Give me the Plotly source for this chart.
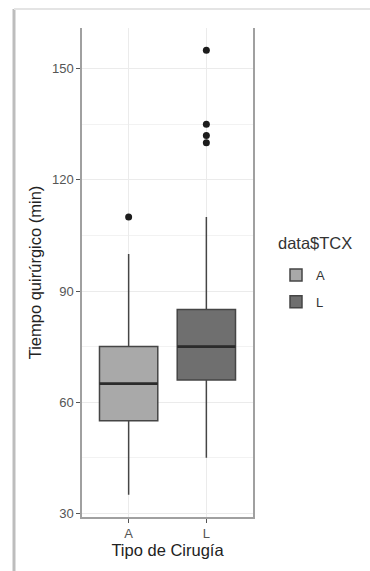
import plotly.graph_objects as go

# ---- data ----
categories = ["A", "L"]
q1 = [55, 66]
medians = [65, 75]
q3 = [75, 85]
lower_whisker = [35, 45]
upper_whisker = [100, 110]
outliers = [[110], [155, 135, 132, 130]]
fills = ["#a9a9a9", "#6f6f6f"]

y_ticks = [30, 60, 90, 120, 150]

BOX_W = 0.75
fig = go.Figure()

for i, cat in enumerate(categories):
    xpos = i + 1
    fig.add_trace(go.Box(
        x=[xpos], q1=[q1[i]], median=[medians[i]], q3=[q3[i]],
        lowerfence=[lower_whisker[i]], upperfence=[upper_whisker[i]],
        name=cat, legendgroup=cat, width=BOX_W, whiskerwidth=0,
        fillcolor=fills[i], line=dict(color="#454545", width=1.5),
        boxpoints=False, hoverinfo="skip",
    ))
    # thicker median line (ggplot style)
    fig.add_trace(go.Scatter(
        x=[xpos - BOX_W / 2, xpos + BOX_W / 2], y=[medians[i], medians[i]],
        mode="lines", line=dict(color="#2b2b2b", width=2.6),
        showlegend=False, hoverinfo="skip", legendgroup=cat,
    ))
    fig.add_trace(go.Scatter(
        x=[xpos] * len(outliers[i]), y=outliers[i], mode="markers",
        marker=dict(color="#1c1c1c", size=7),
        showlegend=False, hoverinfo="skip", legendgroup=cat,
    ))

# screenshot frame (shadow lines on left and top)
L, R, T, B = 82, 117, 28, 54
W, H = 370, 571
pw, ph = W - L - R, H - T - B
def px(x):
    return (x - L) / pw
def py(y):
    return 1 - (y - T) / ph

fig.add_shape(type="line", xref="paper", yref="paper",
              x0=px(14), x1=px(14), y0=py(9), y1=py(575),
              line=dict(color="#bdbdbd", width=3))
fig.add_shape(type="line", xref="paper", yref="paper",
              x0=px(14), x1=px(372), y0=py(9), y1=py(9),
              line=dict(color="#e4e4e4", width=2))

fig.add_annotation(text="data$TCX", xref="paper", yref="paper",
                   x=px(276), y=py(243), xanchor="left", yanchor="middle",
                   showarrow=False, font=dict(size=16.5, color="#333333"))

fig.update_layout(
    width=W, height=H,
    margin=dict(l=L, r=R, t=T, b=B),
    paper_bgcolor="white", plot_bgcolor="white",
    font=dict(family="Liberation Sans, Arial, sans-serif", color="#222222"),
    boxmode="overlay",
    legend=dict(
        x=px(276), y=py(260), xanchor="left", yanchor="top",
        font=dict(size=13, color="#333333"), tracegroupgap=7,
        bgcolor="rgba(0,0,0,0)", itemwidth=30,
    ),
)

fig.update_xaxes(
    range=[0.4, 2.6], tickmode="array", tickvals=[1, 2], ticktext=categories,
    showgrid=True, gridcolor="#ebebeb", gridwidth=1, zeroline=False,
    showline=True, linecolor="#a0a0a0", linewidth=1.5,
    ticks="outside", ticklen=4, tickcolor="#555555",
    tickfont=dict(size=13, color="#555555"),
    title=dict(text="Tipo de Cirugía", font=dict(size=16.5, color="#222222"), standoff=4),
)
fig.update_yaxes(
    range=[29, 161], tickmode="array", tickvals=y_ticks,
    showgrid=True, gridcolor="#ebebeb", gridwidth=1, zeroline=False,
    minor=dict(tickmode="array", tickvals=[45, 75, 105, 135], showgrid=True,
               gridcolor="#f2f2f2", gridwidth=1),
    showline=True, linecolor="#a0a0a0", linewidth=1.5, mirror=True,
    ticks="outside", ticklen=4, tickcolor="#555555",
    tickfont=dict(size=13, color="#555555"),
    title=dict(text="Tiempo quirúrgico (min)", font=dict(size=16.5, color="#222222"), standoff=6),
)

fig.write_html("out.html")
